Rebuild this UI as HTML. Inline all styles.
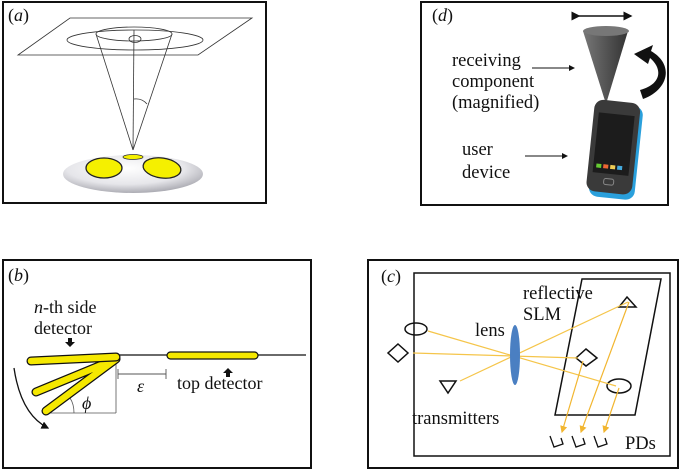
<!DOCTYPE html>
<html><head><meta charset="utf-8"><style>
html,body{margin:0;padding:0;background:#fff;}
svg{display:block;}
text{font-family:"Liberation Serif",serif;fill:#111;}
</style></head><body>
<svg width="683" height="470" viewBox="0 0 683 470" xmlns="http://www.w3.org/2000/svg">
<defs>
<radialGradient id="dome" cx="0.45" cy="0.35" r="0.7">
<stop offset="0" stop-color="#ffffff"/><stop offset="0.6" stop-color="#e6e6ea"/><stop offset="1" stop-color="#a0a0a8"/>
</radialGradient>
<linearGradient id="cone" x1="0" x2="1"><stop offset="0" stop-color="#777"/><stop offset="0.5" stop-color="#555"/><stop offset="1" stop-color="#333"/></linearGradient>
<marker id="ah" markerWidth="6" markerHeight="6" refX="5" refY="3" orient="auto"><path d="M0,0 L6,3 L0,6 z" fill="#111"/></marker>
<marker id="ay" markerWidth="6" markerHeight="6" refX="5" refY="3" orient="auto"><path d="M0,0 L6,3 L0,6 z" fill="#f2b630"/></marker>
</defs>
<!-- panel a -->
<rect x="3" y="2" width="263" height="201" fill="none" stroke="#111" stroke-width="2"/>
<text x="8" y="21" font-size="18">(<tspan font-style="italic">a</tspan>)</text>
<polygon points="70,18 252,18 198,55 18,55" fill="none" stroke="#333" stroke-width="0.8"/>
<ellipse cx="135" cy="40" rx="68" ry="10" fill="none" stroke="#333" stroke-width="0.8"/>
<ellipse cx="134" cy="34" rx="38" ry="7" fill="none" stroke="#333" stroke-width="0.8"/>
<ellipse cx="135" cy="39" rx="6" ry="3.5" fill="none" stroke="#333" stroke-width="0.8"/>
<line x1="96" y1="34" x2="133" y2="150" stroke="#333" stroke-width="0.8"/>
<line x1="172" y1="34" x2="133" y2="150" stroke="#333" stroke-width="0.8"/>
<line x1="134" y1="30" x2="133" y2="150" stroke="#333" stroke-width="0.8"/>
<path d="M134,99 Q142,98 147,104" fill="none" stroke="#333" stroke-width="0.8"/>
<ellipse cx="133" cy="174" rx="70" ry="19" fill="url(#dome)"/>
<ellipse cx="133" cy="157" rx="10" ry="2.5" fill="#f5f000" stroke="#333" stroke-width="0.8"/>
<ellipse cx="104" cy="168" rx="18" ry="10" fill="#f5f000" stroke="#222" stroke-width="1.3"/>
<ellipse cx="162" cy="168" rx="19" ry="10" fill="#f5f000" stroke="#222" stroke-width="1.3" transform="rotate(8 162 168)"/>
<!-- panel d -->
<rect x="421" y="2" width="247" height="203" fill="none" stroke="#111" stroke-width="2"/>
<text x="432" y="21" font-size="18">(<tspan font-style="italic">d</tspan>)</text>
<line x1="579" y1="16" x2="631" y2="16" stroke="#111" stroke-width="1.5" marker-end="url(#ah)" marker-start="url(#ah)"/>
<path d="M583,31 L628,31 L606,104 z" fill="url(#cone)"/>
<ellipse cx="606" cy="31" rx="23" ry="5" fill="#777"/>
<path d="M643,99 C668,90 675,65 651,51 L653,45 L634,54 L648,64 L650,58 C664,70 660,85 640,90 z" fill="#111"/>
<text x="452" y="66" font-size="18.5">receiving</text>
<text x="452" y="87" font-size="18.5">component</text>
<text x="452" y="108" font-size="18.5">(magnified)</text>
<line x1="532" y1="68" x2="574" y2="68" stroke="#111" stroke-width="1" marker-end="url(#ah)"/>
<g transform="rotate(6 612 150)">
<rect x="593" y="104" width="46" height="94" rx="9" fill="#2aa0dc"/>
<rect x="590" y="101" width="46" height="92" rx="9" fill="#3a3a3a"/>
<rect x="595" y="114" width="36" height="60" fill="#1c1c1c"/>
<rect x="598" y="165" width="5" height="4" fill="#6c3"/><rect x="605" y="165" width="5" height="4" fill="#e63"/><rect x="612" y="165" width="5" height="4" fill="#ec5"/><rect x="619" y="165" width="5" height="4" fill="#4ad"/>
<rect x="607" y="179" width="10" height="6" rx="2" fill="none" stroke="#888"/>
</g>
<text x="462" y="155" font-size="18.5">user</text>
<text x="462" y="178" font-size="18.5">device</text>
<line x1="525" y1="156" x2="567" y2="156" stroke="#111" stroke-width="1" marker-end="url(#ah)"/>
<!-- panel b -->
<rect x="3" y="260" width="308" height="208" fill="none" stroke="#111" stroke-width="2"/>
<text x="8" y="281" font-size="18">(<tspan font-style="italic">b</tspan>)</text>
<text x="34" y="313" font-size="18"><tspan font-style="italic">n</tspan>-th side</text>
<text x="34" y="334" font-size="18">detector</text>
<path d="M68,338 L72,338 L72,342 L75,342 L70,347 L65,342 L68,342 z" fill="#111"/>
<line x1="114" y1="355" x2="306" y2="355" stroke="#111" stroke-width="1.3"/>
<line x1="116" y1="358" x2="116" y2="413" stroke="#555" stroke-width="0.8"/>
<line x1="46" y1="413" x2="116" y2="413" stroke="#555" stroke-width="0.8"/>
<path d="M74,413 Q74,404 70,398" fill="none" stroke="#555" stroke-width="0.8"/>
<g stroke="#111" stroke-width="1.2" fill="#f5e800">
<path d="M116,359 L46,411 M116,359 L36,392" stroke="#111" stroke-width="9" stroke-linecap="round"/>
<path d="M116,359 L46,411 M116,359 L36,392" stroke="#f5e800" stroke-width="6.5" stroke-linecap="round"/>
<path d="M31,361 L116,357" stroke="#111" stroke-width="9" stroke-linecap="round"/>
<path d="M31,361 L116,357" stroke="#f5e800" stroke-width="6.5" stroke-linecap="round"/>
<rect x="167" y="352" width="91" height="7" rx="3.5"/>
</g>
<line x1="118" y1="374" x2="166" y2="374" stroke="#555" stroke-width="0.9"/>
<line x1="118" y1="369" x2="118" y2="379" stroke="#555" stroke-width="0.9"/>
<line x1="166" y1="369" x2="166" y2="379" stroke="#555" stroke-width="0.9"/>
<text x="137" y="392" font-size="18" font-style="italic">ε</text>
<text x="82" y="409" font-size="18" font-style="italic">ϕ</text>
<text x="177" y="389" font-size="18">top detector</text>
<path d="M226,377 L230,377 L230,373 L233,373 L228,368 L223,373 L226,373 z" fill="#111"/>
<path d="M14,368 C18,395 28,418 48,428" fill="none" stroke="#111" stroke-width="1.3" marker-end="url(#ah)"/>
<!-- panel c -->
<rect x="368" y="260" width="310" height="208" fill="none" stroke="#111" stroke-width="2"/>
<rect x="414" y="273" width="256" height="183" fill="none" stroke="#111" stroke-width="1.5"/>
<text x="381" y="282" font-size="18">(<tspan font-style="italic">c</tspan>)</text>
<polygon points="582,279 661,279 635,415 555,415" fill="none" stroke="#111" stroke-width="1.5"/>
<text x="523" y="299" font-size="18.5">reflective</text>
<text x="523" y="320" font-size="18.5">SLM</text>
<text x="475" y="336" font-size="18.5">lens</text>
<text x="412" y="424" font-size="18.5">transmitters</text>
<text x="625" y="449" font-size="18.5">PDs</text>
<ellipse cx="416" cy="329" rx="11" ry="6" fill="none" stroke="#111" stroke-width="1.5"/>
<polygon points="398,344 408,353 398,362 388,353" fill="none" stroke="#111" stroke-width="1.5"/>
<polygon points="440,381 456,381 448,393" fill="none" stroke="#111" stroke-width="1.5"/>
<polygon points="627,297 636,307 619,307" fill="none" stroke="#111" stroke-width="1.5"/>
<polygon points="586,349 597,358 586,366 576,358" fill="none" stroke="#111" stroke-width="1.5"/>
<ellipse cx="619" cy="386" rx="12" ry="7" fill="none" stroke="#111" stroke-width="1.5"/>
<g stroke="#f5c54a" stroke-width="1.2" fill="none">
<line x1="428" y1="331" x2="616" y2="386"/>
<line x1="413" y1="353" x2="578" y2="358"/>
<line x1="460" y1="381" x2="628" y2="302"/>
</g>
<ellipse cx="515" cy="355" rx="5" ry="30" fill="#4a7fc2"/>
<g stroke="#f2b630" stroke-width="1.2">
<line x1="583" y1="361" x2="562" y2="432" marker-end="url(#ay)"/>
<line x1="629" y1="302" x2="581" y2="432" marker-end="url(#ay)"/>
<line x1="619" y1="388" x2="604" y2="432" marker-end="url(#ay)"/>
</g>
<g fill="none" stroke="#111" stroke-width="1.3">
<path d="M550,436 L554,447 L563,444 L561,438"/>
<path d="M572,436 L576,447 L585,444 L583,438"/>
<path d="M594,436 L598,447 L607,444 L605,438"/>
</g>
</svg>
</body></html>
